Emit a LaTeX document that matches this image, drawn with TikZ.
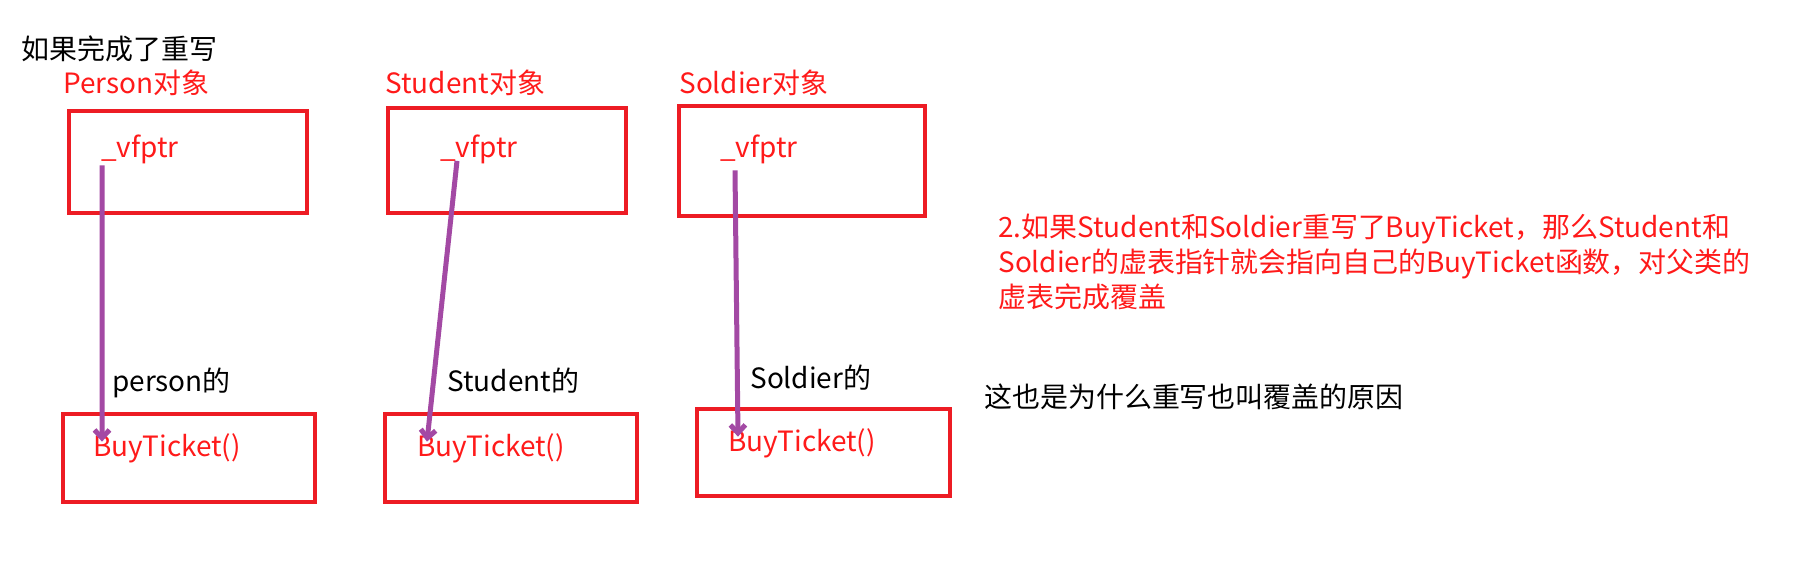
\documentclass[tikz,border=0pt]{standalone}
\usepackage{fontspec}
\setmainfont{Noto Sans CJK SC}
\usetikzlibrary{arrows.meta}
\definecolor{boxred}{HTML}{ED1C24}
\definecolor{ptrpurple}{HTML}{A349A4}
\definecolor{textred}{HTML}{FF1A1A}

\begin{document}
\begin{tikzpicture}[x=0.2mm, y=-0.2mm]
%define

\tikzstyle{every node} = [inner sep=0pt, font=\fontsize{15.9pt}{19.9pt}\selectfont]
\tikzstyle{obj_top} = [rectangle, minimum width=47.6mm, minimum height=20.4mm, draw=boxred, line width=0.9mm]
\tikzstyle{obj_bot} = [rectangle, minimum width=50.4mm, minimum height=17.6mm, draw=boxred, line width=0.9mm]
\tikzstyle{label_r} = [anchor=base west, text=textred]
\tikzstyle{label_b} = [anchor=base west, text=black]
\tikzstyle{member} = [anchor=base west, text=textred, text height=0.8em, text depth=0.2em]
\tikzstyle{arrowp} = [-{Straight Barb[length=1.6mm, width=3mm]}, draw=ptrpurple, line width=1mm]

%background
\useasboundingbox[fill=white](0,0)rectangle(1798,569);

%title
\node[label_b](title) at (21,59){如果完成了重写};

%objects
\node[label_r](name_Person) at (63,93){Person对象};
\node[label_r](name_Student) at (385,93){Student对象};
\node[label_r](name_Soldier) at (679,93){Soldier对象};

\node[obj_top](obj_Person) at (188,162){};
\node[obj_top, minimum height=21mm](obj_Student) at (507,160.5){};
\node[obj_top, minimum width=49.2mm, minimum height=22mm](obj_Soldier) at (802,161){};

\node[member](vfptr_Person) at (101,157){\_vfptr};
\node[member](vfptr_Student) at (440,157){\_vfptr};
\node[member](vfptr_Soldier) at (720,157){\_vfptr};

%tables
\node[obj_bot](tab_Person) at (189,458){};
\node[obj_bot](tab_Student) at (511,458){};
\node[obj_bot, minimum width=50.6mm, minimum height=17.4mm](tab_Soldier) at (823.5,452.5){};

\node[member](fn_Person) at (93,456){BuyTicket()};
\node[member](fn_Student) at (417,456){BuyTicket()};
\node[member](fn_Soldier) at (728,451){BuyTicket()};

\node[label_b](of_Person) at (112,391){person的};
\node[label_b](of_Student) at (447,391){Student的};
\node[label_b](of_Soldier) at (750,388){Soldier的};

%notes
\node[anchor=north west, align=left, text=textred](note_Override) at (998,214){2.如果Student和Soldier重写了BuyTicket，那么Student和\\Soldier的虚表指针就会指向自己的BuyTicket函数，对父类的\\虚表完成覆盖};
\node[label_b](note_Reason) at (984,407){这也是为什么重写也叫覆盖的原因};

%line
\draw[arrowp]([xshift=0.2mm, yshift=-0.9mm]vfptr_Person.south west)--([xshift=1.8mm]fn_Person.north west); %Person
\draw[arrowp]([xshift=3.4mm]vfptr_Student.south west)--([xshift=2mm]fn_Student.north west); %Student
\draw[arrowp]([xshift=3mm, yshift=-1.9mm]vfptr_Soldier.south west)--([xshift=2mm]fn_Soldier.north west); %Soldier

\end{tikzpicture}
\end{document}
